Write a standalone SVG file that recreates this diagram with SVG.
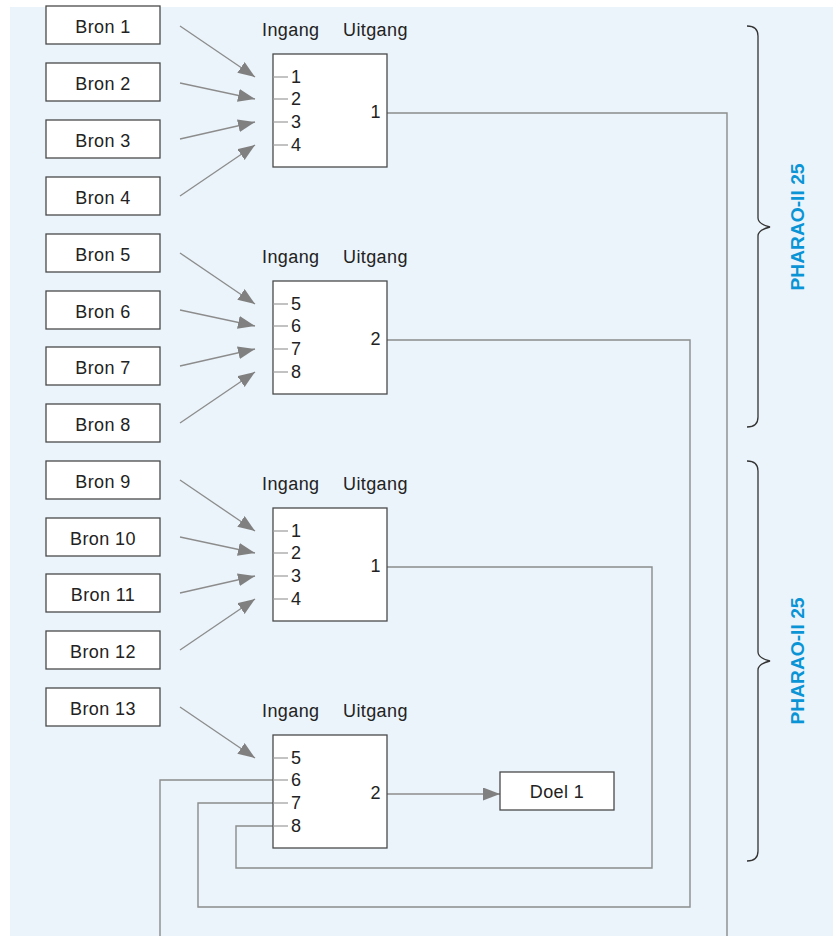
<svg xmlns="http://www.w3.org/2000/svg" width="833" height="936" viewBox="0 0 833 936">
<style>
.bg{fill:#ebf4fa}
.box{fill:#ffffff;stroke:#4a4a4a;stroke-width:1.3}
.t{font-family:"Liberation Sans",Arial,sans-serif;font-size:18px;letter-spacing:0.4px;fill:#222}
.c{text-anchor:middle}
.e{text-anchor:end}
.ln{fill:none;stroke:#8c8c8c;stroke-width:1.4}
.tk{stroke:#9a9a9a;stroke-width:1.2}
.ar{fill:none;stroke:#8c8c8c;stroke-width:1.3;marker-end:url(#ah)}
.br{fill:none;stroke:#333;stroke-width:1.3}
.ph{font-family:"Liberation Sans",Arial,sans-serif;font-size:19px;font-weight:bold;fill:#0a94d6;text-anchor:middle}
</style>
<defs>
<marker id="ah" markerUnits="userSpaceOnUse" markerWidth="18" markerHeight="14" refX="17" refY="6.5" orient="auto">
<path d="M0,0 L17,6.5 L0,13 Z" fill="#808080"/>
</marker>
</defs>
<rect class="bg" x="10" y="7" width="823" height="929"/>

<g id="connectors">
<path class="ln" d="M387,113 H727 V936"/>
<path class="ln" d="M387,340 H690 V907 H198 V803 H273"/>
<path class="ln" d="M387,567 H652 V868 H236 V826 H273"/>
<path class="ln" d="M160,936 V780 H273"/>
<path class="ar" d="M387,794 H500"/>
<line class="ar" x1="180" y1="26" x2="255" y2="77"/>
<line class="ar" x1="180" y1="83" x2="255" y2="99"/>
<line class="ar" x1="180" y1="139" x2="255" y2="122"/>
<line class="ar" x1="180" y1="196" x2="255" y2="145"/>
<line class="ar" x1="180" y1="253" x2="255" y2="304"/>
<line class="ar" x1="180" y1="310" x2="255" y2="326"/>
<line class="ar" x1="180" y1="366" x2="255" y2="349"/>
<line class="ar" x1="180" y1="423" x2="255" y2="372"/>
<line class="ar" x1="180" y1="480" x2="255" y2="531"/>
<line class="ar" x1="180" y1="537" x2="255" y2="553"/>
<line class="ar" x1="180" y1="593" x2="255" y2="576"/>
<line class="ar" x1="180" y1="650" x2="255" y2="599"/>
<line class="ar" x1="180" y1="707" x2="255" y2="758"/>
</g>

<g id="bron1"><rect class="box" x="46" y="6" width="114" height="38"/><text class="t c" x="103" y="33">Bron 1</text></g>
<g id="bron2"><rect class="box" x="46" y="63" width="114" height="38"/><text class="t c" x="103" y="90">Bron 2</text></g>
<g id="bron3"><rect class="box" x="46" y="120" width="114" height="38"/><text class="t c" x="103" y="147">Bron 3</text></g>
<g id="bron4"><rect class="box" x="46" y="177" width="114" height="38"/><text class="t c" x="103" y="204">Bron 4</text></g>
<g id="bron5"><rect class="box" x="46" y="234" width="114" height="38"/><text class="t c" x="103" y="261">Bron 5</text></g>
<g id="bron6"><rect class="box" x="46" y="291" width="114" height="38"/><text class="t c" x="103" y="318">Bron 6</text></g>
<g id="bron7"><rect class="box" x="46" y="347" width="114" height="38"/><text class="t c" x="103" y="374">Bron 7</text></g>
<g id="bron8"><rect class="box" x="46" y="404" width="114" height="38"/><text class="t c" x="103" y="431">Bron 8</text></g>
<g id="bron9"><rect class="box" x="46" y="461" width="114" height="38"/><text class="t c" x="103" y="488">Bron 9</text></g>
<g id="bron10"><rect class="box" x="46" y="518" width="114" height="38"/><text class="t c" x="103" y="545">Bron 10</text></g>
<g id="bron11"><rect class="box" x="46" y="574" width="114" height="38"/><text class="t c" x="103" y="601">Bron 11</text></g>
<g id="bron12"><rect class="box" x="46" y="631" width="114" height="38"/><text class="t c" x="103" y="658">Bron 12</text></g>
<g id="bron13"><rect class="box" x="46" y="688" width="114" height="38"/><text class="t c" x="103" y="715">Bron 13</text></g>

<g id="block1">
<text class="t" x="262" y="36">Ingang</text><text class="t" x="343" y="36">Uitgang</text>
<rect class="box" x="273" y="54" width="114" height="113"/>
<line class="tk" x1="273" y1="77" x2="288" y2="77"/><text class="t" x="291" y="83">1</text>
<line class="tk" x1="273" y1="99" x2="288" y2="99"/><text class="t" x="291" y="105">2</text>
<line class="tk" x1="273" y1="122" x2="288" y2="122"/><text class="t" x="291" y="128">3</text>
<line class="tk" x1="273" y1="145" x2="288" y2="145"/><text class="t" x="291" y="151">4</text>
<text class="t e" x="381" y="118">1</text>
</g>
<g id="block2">
<text class="t" x="262" y="263">Ingang</text><text class="t" x="343" y="263">Uitgang</text>
<rect class="box" x="273" y="281" width="114" height="113"/>
<line class="tk" x1="273" y1="304" x2="288" y2="304"/><text class="t" x="291" y="310">5</text>
<line class="tk" x1="273" y1="326" x2="288" y2="326"/><text class="t" x="291" y="332">6</text>
<line class="tk" x1="273" y1="349" x2="288" y2="349"/><text class="t" x="291" y="355">7</text>
<line class="tk" x1="273" y1="372" x2="288" y2="372"/><text class="t" x="291" y="378">8</text>
<text class="t e" x="381" y="345">2</text>
</g>
<g id="block3">
<text class="t" x="262" y="490">Ingang</text><text class="t" x="343" y="490">Uitgang</text>
<rect class="box" x="273" y="508" width="114" height="113"/>
<line class="tk" x1="273" y1="531" x2="288" y2="531"/><text class="t" x="291" y="537">1</text>
<line class="tk" x1="273" y1="553" x2="288" y2="553"/><text class="t" x="291" y="559">2</text>
<line class="tk" x1="273" y1="576" x2="288" y2="576"/><text class="t" x="291" y="582">3</text>
<line class="tk" x1="273" y1="599" x2="288" y2="599"/><text class="t" x="291" y="605">4</text>
<text class="t e" x="381" y="572">1</text>
</g>
<g id="block4">
<text class="t" x="262" y="717">Ingang</text><text class="t" x="343" y="717">Uitgang</text>
<rect class="box" x="273" y="735" width="114" height="113"/>
<line class="tk" x1="273" y1="758" x2="288" y2="758"/><text class="t" x="291" y="764">5</text>
<line class="tk" x1="273" y1="780" x2="288" y2="780"/><text class="t" x="291" y="786">6</text>
<line class="tk" x1="273" y1="803" x2="288" y2="803"/><text class="t" x="291" y="809">7</text>
<line class="tk" x1="273" y1="826" x2="288" y2="826"/><text class="t" x="291" y="832">8</text>
<text class="t e" x="381" y="799">2</text>
</g>
<g id="doel1"><rect class="box" x="500" y="772" width="114" height="38"/><text class="t c" x="557" y="798">Doel 1</text></g>

<g id="brace1">
<path class="br" d="M747,26 Q758,26 758,36 V218 Q758,224 770,227 Q758,230 758,236 V417 Q758,427 747,427"/>
<text class="ph" transform="translate(804,227) rotate(-90)" textLength="127" lengthAdjust="spacingAndGlyphs">PHARAO-II 25</text>
</g>
<g id="brace2">
<path class="br" d="M747,461 Q758,461 758,471 V652 Q758,658 770,661 Q758,664 758,670 V851 Q758,861 747,861"/>
<text class="ph" transform="translate(804,661) rotate(-90)" textLength="127" lengthAdjust="spacingAndGlyphs">PHARAO-II 25</text>
</g>
</svg>
